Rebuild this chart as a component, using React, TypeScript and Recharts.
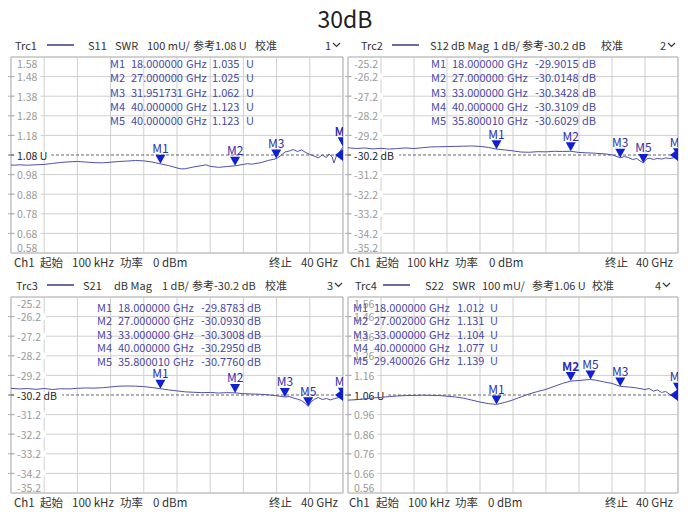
import React from 'react';
import {
  ComposedChart,
  Line,
  Scatter,
  XAxis,
  YAxis,
  CartesianGrid,
  ReferenceLine,
  ReferenceDot,
  ReferenceArea,
} from 'recharts';

const FONT = '"Noto Sans CJK SC", "Noto Sans", sans-serif';

// ---------- shared axis ----------
const freqTicks = [0, 4, 8, 12, 16, 20, 24, 28, 32, 36, 40];

// ---------- Trc1 : S11 SWR ----------
const s11Freq = [0, 0.5, 1, 2, 3, 4, 5, 6, 7, 8, 9, 10, 11, 12, 13, 14, 15, 16, 17, 18, 19, 20, 20.5, 21, 22, 23, 23.5, 24, 25, 26, 27, 28, 28.5, 29, 30, 31, 32, 32.5, 33, 33.5, 34, 34.5, 35, 35.5, 36, 36.5, 37, 37.5, 38, 38.3, 38.7, 38.9, 39.2, 39.6, 40];
const s11Swr = [1.029, 1.028, 1.03, 1.028, 1.03, 1.032, 1.037, 1.042, 1.045, 1.047, 1.044, 1.041, 1.04, 1.043, 1.047, 1.049, 1.052, 1.05, 1.044, 1.035, 1.026, 1.014, 1.009, 1.01, 1.019, 1.026, 1.03, 1.022, 1.017, 1.021, 1.025, 1.032, 1.036, 1.033, 1.04, 1.052, 1.062, 1.077, 1.095, 1.1, 1.108, 1.098, 1.106, 1.093, 1.083, 1.075, 1.065, 1.08, 1.067, 1.085, 1.07, 1.039, 1.075, 1.095, 1.123];
const s11Ticks = [0.58, 0.68, 0.78, 0.88, 0.98, 1.18, 1.28, 1.38, 1.48, 1.58];
const s11MarkerNames = ['M1', 'M2', 'M3', 'M4', 'M5'];
const s11MarkerFreq = [18, 27, 31.951731, 40, 40];
const s11MarkerVals = [1.035, 1.025, 1.062, 1.123, 1.123];

// ---------- Trc2 : S12 dB Mag ----------
const s12Freq = [0, 1, 2, 3, 4, 5, 6, 7, 8, 9, 10, 11, 12, 13, 14, 15, 16, 17, 18, 19, 20, 21, 22, 23, 24, 25, 26, 27, 28, 29, 30, 31, 32, 33, 33.5, 34, 34.5, 35, 35.4, 35.8, 36.2, 36.6, 37, 37.5, 38, 38.5, 39, 39.5, 40];
const s12Db = [-29.83, -29.87, -29.84, -29.89, -29.86, -29.9, -29.87, -29.84, -29.87, -29.83, -29.79, -29.78, -29.77, -29.76, -29.75, -29.74, -29.76, -29.81, -29.9, -29.94, -29.99, -30.05, -30.06, -30.03, -30.04, -30.01, -30.02, -30.01, -30.07, -30.09, -30.11, -30.14, -30.19, -30.34, -30.28, -30.33, -30.43, -30.38, -30.5, -30.6, -30.4, -30.36, -30.43, -30.37, -30.41, -30.35, -30.38, -30.34, -30.31];
const s12MarkerNames = ['M1', 'M2', 'M3', 'M4', 'M5'];
const s12MarkerFreq = [18, 27, 33, 40, 35.80001];
const s12MarkerVals = [-29.9015, -30.0148, -30.3428, -30.3109, -30.6029];

// ---------- Trc3 : S21 dB Mag ----------
const s21Freq = [0, 1, 2, 3, 4, 5, 6, 7, 8, 9, 10, 11, 12, 13, 14, 15, 16, 17, 18, 19, 20, 21, 22, 23, 24, 25, 26, 27, 28, 29, 30, 31, 32, 33, 33.5, 34, 34.5, 35, 35.4, 35.8, 36.2, 36.6, 37, 37.5, 38, 38.5, 39, 39.5, 40];
const s21Db = [-29.86, -29.89, -29.87, -29.91, -29.87, -29.92, -29.88, -29.89, -29.86, -29.84, -29.85, -29.83, -29.79, -29.75, -29.74, -29.75, -29.77, -29.82, -29.88, -29.94, -29.99, -30.04, -30.06, -30.08, -30.07, -30.1, -30.08, -30.09, -30.13, -30.15, -30.16, -30.19, -30.24, -30.3, -30.28, -30.35, -30.41, -30.48, -30.61, -30.78, -30.53, -30.41, -30.33, -30.43, -30.38, -30.45, -30.38, -30.33, -30.3];
const dbTicks = [-35.2, -34.2, -33.2, -32.2, -31.2, -29.2, -28.2, -27.2, -26.2, -25.2];
const s21MarkerNames = ['M1', 'M2', 'M3', 'M4', 'M5'];
const s21MarkerFreq = [18, 27, 33, 40, 35.80001];
const s21MarkerVals = [-29.8783, -30.093, -30.3008, -30.295, -30.776];

// ---------- Trc4 : S22 SWR ----------
const s22Freq = [0, 1, 2, 3, 4, 5, 6, 7, 8, 9, 10, 11, 12, 13, 14, 15, 16, 17, 18, 19, 20, 21, 22, 23, 24, 25, 26, 27, 28, 29, 29.4, 30, 31, 32, 33, 34, 35, 36, 36.5, 37, 37.5, 38, 38.5, 39, 39.5, 40];
const s22Swr = [1.034, 1.036, 1.04, 1.045, 1.048, 1.052, 1.055, 1.057, 1.058, 1.059, 1.058, 1.057, 1.054, 1.05, 1.044, 1.034, 1.024, 1.016, 1.012, 1.022, 1.035, 1.051, 1.066, 1.078, 1.089, 1.104, 1.119, 1.131, 1.134, 1.138, 1.139, 1.136, 1.127, 1.119, 1.104, 1.101, 1.096, 1.088, 1.093, 1.08, 1.086, 1.073, 1.078, 1.063, 1.052, 1.077];
const s22Ticks = [0.56, 0.66, 0.76, 0.86, 0.96, 1.16, 1.26, 1.36, 1.46, 1.56];
const s22MarkerNames = ['M1', 'M2', 'M3', 'M4', 'M5'];
const s22MarkerFreq = [18, 27.002, 33, 40, 29.400026];
const s22MarkerVals = [1.012, 1.131, 1.104, 1.077, 1.139];

// ---------- styling ----------
const TRACE = '#5050aa';
const MARK = '#1020d0';
const MARK_TEXT = '#2f2fae';
const TABLE_TEXT = '#4848a8';
const GRID = '#cfcfcf';
const TICK_TEXT = '#9a9a9a';
const TEXT = '#333333';

type Cfg = {
  id: string;
  left: number;
  top: number;
  margin: { top: number; right: number; bottom: number; left: number };
  freq: number[];
  vals: number[];
  ticks: number[];
  yMin: number;
  yMax: number;
  ref: number;
  refLabel: string;
  decimals: number;
  mNames: string[];
  mFreq: number[];
  mVals: number[];
  boldMarker?: string;
};

const panels: Cfg[] = [
  {
    id: 'p1', left: 0, top: 40, margin: { top: 17, right: 2, bottom: 17, left: 11 },
    freq: s11Freq, vals: s11Swr, ticks: s11Ticks, yMin: 0.58, yMax: 1.58, ref: 1.08, refLabel: '1.08 U', decimals: 2,
    mNames: s11MarkerNames, mFreq: s11MarkerFreq, mVals: s11MarkerVals,
  },
  {
    id: 'p2', left: 345, top: 40, margin: { top: 17, right: 12, bottom: 17, left: 3 },
    freq: s12Freq, vals: s12Db, ticks: dbTicks, yMin: -35.2, yMax: -25.2, ref: -30.2, refLabel: '-30.2 dB', decimals: 1,
    mNames: s12MarkerNames, mFreq: s12MarkerFreq, mVals: s12MarkerVals,
  },
  {
    id: 'p3', left: 0, top: 280, margin: { top: 17, right: 2, bottom: 17, left: 11 },
    freq: s21Freq, vals: s21Db, ticks: dbTicks, yMin: -35.2, yMax: -25.2, ref: -30.2, refLabel: '-30.2 dB', decimals: 1,
    mNames: s21MarkerNames, mFreq: s21MarkerFreq, mVals: s21MarkerVals,
  },
  {
    id: 'p4', left: 345, top: 280, margin: { top: 17, right: 12, bottom: 17, left: 3 },
    freq: s22Freq, vals: s22Swr, ticks: s22Ticks, yMin: 0.56, yMax: 1.56, ref: 1.06, refLabel: '1.06 U', decimals: 2,
    mNames: s22MarkerNames, mFreq: s22MarkerFreq, mVals: s22MarkerVals, boldMarker: 'M2',
  },
];

const CHART_W = 345;
const CHART_H = 230;

function makeTickLabel(cfg: Cfg, v: number) {
  const label = v.toFixed(cfg.decimals);
  const isTop = Math.abs(v - cfg.yMax) < 1e-6;
  const isBottom = Math.abs(v - cfg.yMin) < 1e-6;
  return (props: any) => {
    const vb = props.viewBox || {};
    const x = vb.x;
    const y = vb.y;
    if (x == null || y == null) return <g />;
    const ty = isTop ? y + 6 : isBottom ? y - 6 : y;
    const w = label.length * 5.4;
    return (
      <g>
        {!isTop && !isBottom && (
          <>
            <line x1={x - 3} x2={x + 3} y1={y} y2={y} stroke="#aaaaaa" />
            <rect x={x + 4} y={y - 3} width={w + 4} height={6} fill="#ffffff" />
          </>
        )}
        <text x={x + 6} y={ty} dominantBaseline="central" fontSize={10.5} fill={TICK_TEXT} fontFamily={FONT}>
          {label}
        </text>
      </g>
    );
  };
}

function makeRefLabel(cfg: Cfg) {
  return (props: any) => {
    const vb = props.viewBox || {};
    const x = vb.x;
    const y = vb.y;
    if (x == null || y == null) return <g />;
    const w = cfg.refLabel.length * 5.4;
    return (
      <g>
        <line x1={x - 3} x2={x + 3} y1={y} y2={y} stroke="#666666" />
        <rect x={x + 4} y={y - 3} width={w + 4} height={6} fill="#ffffff" />
        <text x={x + 6} y={y} dominantBaseline="central" fontSize={10.5} fill="#222222" fontFamily={FONT}>
          {cfg.refLabel}
        </text>
      </g>
    );
  };
}

function makeMarkerShape(cfg: Cfg) {
  return (props: any) => {
    const { cx, cy, payload } = props;
    if (cx == null || cy == null) return <g />;
    const content = (
      <g>
        <polygon points={`${cx - 5},${cy - 9} ${cx + 5},${cy - 9} ${cx},${cy}`} fill={MARK} />
        <text
          x={cx}
          y={cy - 16}
          textAnchor="middle"
          dominantBaseline="central"
          fontSize={12}
          fontWeight={payload.name === cfg.boldMarker ? 700 : 400}
          fill={MARK_TEXT}
          fontFamily={FONT}
        >
          {payload.name}
        </text>
      </g>
    );
    if (payload.f < 40) return content;
    const clipId = `clip-${cfg.id}-${payload.name}`;
    return (
      <g>
        <defs>
          <clipPath id={clipId}>
            <rect x={cx - 40} y={cy - 40} width={40.5} height={60} />
          </clipPath>
        </defs>
        <g clipPath={`url(#${clipId})`}>{content}</g>
      </g>
    );
  };
}

const RefArrow = (props: any) => {
  const { cx, cy } = props;
  if (cx == null || cy == null) return <g />;
  return <polygon points={`${cx},${cy - 6} ${cx},${cy + 6} ${cx - 8},${cy}`} fill={MARK} />;
};

function Panel({ cfg }: { cfg: Cfg }) {
  const data = cfg.freq.map((f, i) => ({ f, v: cfg.vals[i] }));
  const markers = cfg.mNames.map((name, i) => ({ f: cfg.mFreq[i], v: cfg.mVals[i], name }));
  return (
    <div style={{ position: 'absolute', left: cfg.left, top: cfg.top, width: CHART_W, height: CHART_H }}>
      <ComposedChart width={CHART_W} height={CHART_H} data={data} margin={cfg.margin}>
        <XAxis type="number" dataKey="f" domain={[0, 40]} ticks={freqTicks} hide allowDataOverflow />
        <YAxis type="number" domain={[cfg.yMin, cfg.yMax]} ticks={cfg.ticks} interval={0} hide allowDataOverflow />
        <CartesianGrid stroke={GRID} strokeWidth={1} />
        <ReferenceArea x1={0} x2={40} y1={cfg.yMin} y2={cfg.yMax} fill="none" fillOpacity={0} stroke="#bbbbbb" strokeOpacity={1} />
        {cfg.ticks.map((v) => (
          <ReferenceLine key={`tk${v}`} y={v} stroke="none" label={makeTickLabel(cfg, v)} />
        ))}
        <ReferenceLine y={cfg.ref} stroke="#666666" strokeDasharray="3 2" label={makeRefLabel(cfg)} />
        <Line type="linear" dataKey="v" stroke={TRACE} strokeWidth={1} dot={false} isAnimationActive={false} />
        <Scatter data={markers} dataKey="v" shape={makeMarkerShape(cfg)} isAnimationActive={false} />
        <ReferenceDot x={40} y={cfg.ref} r={0} shape={RefArrow} />
      </ComposedChart>
    </div>
  );
}

// ---------- overlay text ----------
type Item = [number, string];
const headers: { y: number; items: Item[]; line: [number, number]; num: [number, string] }[] = [
  { y: 45, items: [[15, 'Trc1'], [88, 'S11'], [115, 'SWR'], [147, '100 mU/'], [193, '参考1.08 U'], [255, '校准']], line: [47, 74], num: [325, '1'] },
  { y: 45, items: [[361, 'Trc2'], [430, 'S12'], [451, 'dB Mag'], [493, '1 dB/'], [522, '参考-30.2 dB'], [601, '校准']], line: [392, 419], num: [660, '2'] },
  { y: 285, items: [[16, 'Trc3'], [83, 'S21'], [114, 'dB Mag'], [162, '1 dB/'], [192, '参考-30.2 dB'], [265, '校准']], line: [47, 74], num: [327, '3'] },
  { y: 285, items: [[355, 'Trc4'], [425, 'S22'], [452, 'SWR'], [482, '100 mU/'], [532, '参考1.06 U'], [592, '校准']], line: [383, 410], num: [655, '4'] },
];

const footers: { y: number; items: Item[]; stopX: number; endX: number }[] = [
  { y: 262, items: [[14, 'Ch1'], [40, '起始'], [72, '100 kHz'], [120, '功率'], [153, '0 dBm']], stopX: 269, endX: 338 },
  { y: 262, items: [[350, 'Ch1'], [376, '起始'], [407, '100 kHz'], [455, '功率'], [489, '0 dBm']], stopX: 605, endX: 673 },
  { y: 502, items: [[14, 'Ch1'], [40, '起始'], [72, '100 kHz'], [120, '功率'], [153, '0 dBm']], stopX: 269, endX: 338 },
  { y: 502, items: [[349, 'Ch1'], [376, '起始'], [408, '100 kHz'], [455, '功率'], [488, '0 dBm']], stopX: 605, endX: 673 },
];

const tables: { cols: number[]; y0: number; dy: number; unit: string; fDec: number; vDec: number }[] = [
  { cols: [110, 131, 186, 212, 246], y0: 63, dy: 14.25, unit: 'U', fDec: 6, vDec: 3 },
  { cols: [431, 452, 507, 535, 582], y0: 63, dy: 14.25, unit: 'dB', fDec: 6, vDec: 4 },
  { cols: [97, 118, 173, 201, 247], y0: 306.5, dy: 13.5, unit: 'dB', fDec: 6, vDec: 4 },
  { cols: [353, 374, 429, 457, 490], y0: 307, dy: 13.3, unit: 'U', fDec: 6, vDec: 3 },
];

function Overlay() {
  return (
    <svg
      width={690}
      height={513}
      style={{ position: 'absolute', left: 0, top: 0, pointerEvents: 'none' }}
      fontFamily={FONT}
    >
      <text x={345} y={18} textAnchor="middle" dominantBaseline="central" fontSize={23} fill="#222222">
        30dB
      </text>
      {headers.map((h, i) => (
        <g key={`h${i}`}>
          {h.items.map(([x, t], j) => (
            <text key={j} x={x} y={h.y} dominantBaseline="central" fontSize={11} fill={TEXT}>
              {t}
            </text>
          ))}
          <line x1={h.line[0]} x2={h.line[1]} y1={h.y} y2={h.y} stroke="#2a2a80" strokeWidth={1.4} />
          <text x={h.num[0]} y={h.y} dominantBaseline="central" fontSize={11} fill={TEXT}>
            {h.num[1]}
          </text>
          <polyline
            points={`${h.num[0] + 8},${h.y - 2} ${h.num[0] + 11.5},${h.y + 1.5} ${h.num[0] + 15},${h.y - 2}`}
            fill="none"
            stroke={TEXT}
            strokeWidth={1.2}
          />
        </g>
      ))}
      {footers.map((f, i) => (
        <g key={`f${i}`}>
          {f.items.map(([x, t], j) => (
            <text key={j} x={x} y={f.y} dominantBaseline="central" fontSize={11.5} fill={TEXT}>
              {t}
            </text>
          ))}
          <text x={f.stopX} y={f.y} dominantBaseline="central" fontSize={11.5} fill={TEXT}>
            终止
          </text>
          <text x={f.endX} y={f.y} textAnchor="end" dominantBaseline="central" fontSize={11.5} fill={TEXT}>
            40 GHz
          </text>
        </g>
      ))}
      {tables.map((t, i) => {
        const p = panels[i];
        return (
          <g key={`t${i}`}>
            {p.mNames.map((n, r) => {
              const y = t.y0 + r * t.dy;
              return (
                <g key={r}>
                  <text x={t.cols[0]} y={y} dominantBaseline="central" fontSize={11} fill={TABLE_TEXT}>{n}</text>
                  <text x={t.cols[1]} y={y} dominantBaseline="central" fontSize={11} fill={TABLE_TEXT}>{p.mFreq[r].toFixed(t.fDec)}</text>
                  <text x={t.cols[2]} y={y} dominantBaseline="central" fontSize={11} fill={TABLE_TEXT}>GHz</text>
                  <text x={t.cols[3]} y={y} dominantBaseline="central" fontSize={11} fill={TABLE_TEXT}>{p.mVals[r].toFixed(t.vDec)}</text>
                  <text x={t.cols[4]} y={y} dominantBaseline="central" fontSize={11} fill={TABLE_TEXT}>{t.unit}</text>
                </g>
              );
            })}
          </g>
        );
      })}
    </svg>
  );
}

export default function App() {
  return (
    <div style={{ position: 'absolute', left: 0, top: 0, width: 690, height: 513, background: '#ffffff', overflow: 'hidden' }}>
      {panels.map((p) => (
        <Panel key={p.id} cfg={p} />
      ))}
      <Overlay />
    </div>
  );
}
